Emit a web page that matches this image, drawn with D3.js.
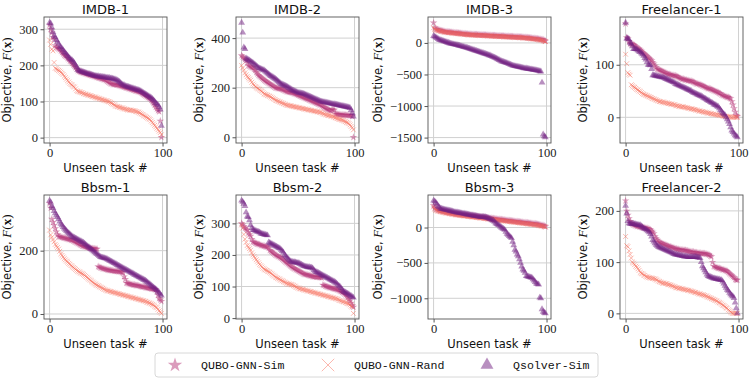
<!DOCTYPE html>
<html>
<head>
<meta charset="utf-8">
<script src="https://cdn.jsdelivr.net/npm/d3@7"></script>
<style>
  body { margin: 0; background: #fff; }
  svg { display: block; }
</style>
</head>
<body>
<div id="chart"></div>
<script>
// objective value per unseen task (sorted), one array per dataset / method
const imdb1Sim = [312,300,290,278,272,255,250,248,246,244, 240,236,232,228,226,224,220,216,212,210, 206,202,198,194,190,186,184,182,181,180, 179,178,177,176,175,174,173,172,171,170, 169,168,167,166,165,164,163,162,161,160, 158,156,154,152,150,149,148,147,147,146, 146,145,144,143,142,141,140,139,138,137, 136,135,134,133,132,131,130,129,128,127, 126,124,122,120,118,116,114,112,110,108, 104,100,95,90,85,80,75,72,46,1];
const imdb1Rand = [270,258,245,240,208,192,190,188,186,184, 181,178,175,170,166,162,158,154,150,147, 145,142,140,135,130,128,127,126,125,124, 122,121,120,119,118,117,116,115,114,113, 112,111,110,109,108,107,106,105,104,103, 102,101,100,99,97,95,93,91,89,87, 86,85,84,83,82,81,80,79,78,77, 77,76,76,75,75,74,73,72,71,70, 68,66,64,62,60,58,56,54,52,50, 46,42,38,34,30,26,22,18,14,8];
const imdb1Qs = [318,316,305,292,282,278,270,265,260,252, 250,246,242,237,234,230,226,222,219,216, 214,210,206,200,195,188,186,184,183,182, 181,180,179,178,177,176,175,174,173,172, 171,171,170,170,169,169,168,168,167,167, 166,166,165,165,164,164,163,162,161,160, 158,156,154,151,148,146,145,143,142,141, 140,139,138,137,136,135,134,133,132,131, 130,128,126,124,122,120,118,116,114,112, 110,107,104,100,96,93,90,85,78,33];

const imdb2Sim = [330,325,320,315,310,300,290,287,284,282, 280,275,270,262,256,250,246,242,238,234, 230,227,224,221,218,215,212,209,206,203, 200,199,198,197,196,195,193,191,189,187, 185,184,183,182,181,180,178,176,174,172, 170,168,166,164,162,160,158,156,154,152, 150,148,146,144,142,140,138,136,134,132, 130,127,124,121,118,115,113,111,109,107, 112,111,110,95,94,93,92,92,91,91, 90,90,90,89,89,89,88,88,85,0];
const imdb2Rand = [290,280,270,260,252,245,240,235,230,222, 215,210,205,202,198,195,192,188,185,180, 175,173,171,169,167,165,162,159,156,153, 150,148,146,144,142,140,138,136,134,132, 130,129,128,127,126,125,124,123,122,121, 120,119,118,117,116,115,114,113,112,111, 110,109,108,107,106,105,104,103,102,101, 100,98,96,94,92,90,89,88,87,86, 85,83,81,79,77,75,74,72,71,69, 68,65,63,60,58,55,50,44,38,30];
const imdb2Qs = [462,422,362,356,318,315,312,310,306,303, 300,296,292,288,284,280,278,276,274,272, 270,266,262,258,254,250,247,244,241,238, 235,231,227,223,219,215,213,211,209,207, 205,202,199,196,193,190,188,186,184,182, 180,179,178,177,176,175,173,171,169,167, 165,163,161,159,157,155,153,151,149,147, 145,144,143,142,141,140,139,138,137,136, 135,134,133,132,131,130,129,128,127,126, 125,124,123,122,121,120,118,110,98,84];

const imdb3Sim = [320,240,222,215,208,200,196,192,188,184, 180,178,176,174,172,170,168,166,164,162, 160,158,156,154,152,150,148,146,144,142, 140,139,138,137,136,135,134,133,132,131, 130,129,128,127,126,125,124,123,122,121, 120,119,118,117,116,115,114,113,112,111, 110,109,108,107,106,105,104,103,102,101, 100,99,98,97,96,95,94,93,92,91, 90,88,86,84,82,80,78,76,74,72, 70,68,66,63,60,57,54,50,40,30];
const imdb3Rand = [240,215,205,198,194,190,186,182,178,174, 170,168,166,164,162,160,158,156,154,152, 150,148,146,144,142,140,138,136,134,132, 130,129,128,127,126,125,124,123,122,121, 120,119,118,117,116,115,114,113,112,111, 110,109,108,107,106,105,104,103,102,101, 100,99,98,97,96,95,94,93,92,91, 90,89,88,87,86,85,84,83,82,81, 80,78,76,74,72,70,68,66,64,62, 60,57,54,51,48,45,40,35,28,20];
const imdb3Qs = [110,100,88,76,62,50,44,38,32,26, 20,14,8,2,-4,-10,-14,-18,-22,-26, -30,-35,-40,-45,-50,-55,-60,-65,-70,-75, -80,-86,-92,-98,-104,-110,-116,-122,-128,-134, -140,-146,-152,-158,-164,-170,-176,-182,-188,-194, -200,-208,-216,-224,-232,-240,-250,-260,-270,-280, -290,-296,-302,-308,-314,-320,-328,-336,-344,-352, -360,-364,-368,-372,-376,-380,-384,-388,-392,-396, -400,-403,-406,-409,-412,-415,-418,-421,-424,-427, -430,-434,-438,-442,-448,-452,-628,-1450,-1480,-1495];

const free1Sim = [178,152,150,145,140,140,139,138,137,135, 133,131,130,128,126,124,122,120,118,116, 114,112,110,108,105,102,98,95,92,91, 90,89,88,87,86,85,84,83,82,82, 81,80,80,79,79,78,77,76,75,74, 73,73,72,71,71,70,70,69,69,68, 67,66,65,64,64,63,62,61,60,59, 58,57,56,55,55,54,53,52,51,50, 49,48,47,46,45,43,42,41,40,39, 38,38,37,36,30,24,17,10,4,2];
const free1Rand = [120,102,85,82,80,62,60,58,57,55, 53,52,50,49,47,45,44,43,42,41, 40,39,38,37,36,35,34,33,32,31, 30,30,29,29,28,28,27,27,26,26, 25,25,24,24,23,22,22,21,21,20, 20,20,19,19,18,18,17,17,16,16, 15,15,14,14,13,12,12,11,11,10, 10,9,9,8,8,7,7,6,6,5, 5,5,4,4,4,3,3,2,2,2, 1,1,1,1,0,0,0,0,0,0];
const free1Qs = [180,150,150,148,142,140,135,130,130,130, 129,127,125,124,122,120,117,113,110,105, 100,100,99,92,80,80,79,79,78,78, 77,77,76,76,75,74,73,72,71,70, 69,68,67,66,64,63,62,61,60,59, 58,57,56,55,54,53,52,51,50,48, 47,46,45,44,43,42,41,40,39,37, 36,35,33,32,31,29,28,27,25,24, 23,21,20,17,14,11,8,6,4,0, -4,-8,-13,-19,-25,-28,-31,-34,-36,-38];

const bbsm1Sim = [350,335,300,290,280,270,260,250,245,244, 243,242,241,240,239,238,237,236,235,234, 233,231,229,227,225,223,221,219,217,215, 214,213,212,211,210,209,208,207,207,206, 206,205,205,150,148,146,145,144,143,142, 141,140,139,138,138,137,137,136,136,135, 135,134,134,133,132,130,118,110,98,97, 96,95,94,93,92,92,91,90,90,89, 88,87,86,86,85,84,83,82,82,81, 80,80,79,78,77,70,60,50,45,40];
const bbsm1Rand = [265,250,242,235,228,220,215,210,205,198, 190,185,180,175,171,167,164,160,157,153, 150,147,144,141,138,135,133,131,129,127, 125,122,119,116,113,110,107,104,101,98, 95,93,91,89,87,85,83,81,79,77, 75,74,73,72,71,70,69,68,67,66, 65,64,63,62,61,60,59,58,57,56, 55,54,53,52,51,50,49,48,47,46, 45,44,43,42,41,40,38,37,35,34, 32,30,28,25,22,20,15,10,6,2];
const bbsm1Qs = [358,352,340,335,325,318,312,306,300,292, 285,280,275,270,266,262,258,255,252,248, 245,243,241,239,237,235,233,231,229,227, 225,222,219,216,213,210,207,204,201,198, 195,192,189,186,183,180,179,178,177,176, 175,173,171,169,167,165,163,161,159,157, 155,153,151,149,147,145,143,141,139,137, 135,133,131,129,127,125,123,121,119,117, 115,113,111,109,107,105,102,99,96,93, 90,87,84,81,78,75,71,67,62,58];

const bbsm2Sim = [300,296,290,285,282,278,270,265,260,250, 242,240,238,236,235,234,233,231,230,229, 228,227,226,225,222,215,212,209,206,203, 200,198,196,194,192,190,187,184,181,178, 175,172,169,166,163,160,158,156,154,152, 150,148,146,144,142,140,139,138,137,136, 135,134,133,132,131,131,130,130,130,129, 129,128,105,104,102,100,99,98,97,96, 95,94,93,92,91,90,88,86,84,82, 80,77,74,70,65,60,55,48,40,35];
const bbsm2Rand = [295,285,265,250,240,230,225,220,215,207, 200,195,190,185,180,175,170,166,162,158, 155,153,151,149,147,145,142,139,136,133, 130,128,126,124,122,120,118,116,114,112, 110,109,108,107,106,105,103,101,99,97, 95,94,93,92,91,90,89,88,87,86, 85,84,83,82,81,80,79,78,77,76, 75,74,73,72,71,70,69,68,67,66, 65,64,63,62,61,60,58,56,55,53, 52,51,49,48,46,45,42,38,35,15];
const bbsm2Qs = [372,368,362,355,335,322,320,310,295,285, 280,279,277,275,274,273,271,268,267,266, 265,264,263,262,240,238,236,234,232,230, 228,226,224,222,220,216,212,208,200,196, 192,188,184,180,179,178,177,177,176,175, 175,173,171,169,167,165,164,163,162,161, 161,160,160,157,152,148,146,145,143,141, 139,137,135,133,131,129,127,125,123,121, 119,117,115,113,110,106,102,100,95,90, 85,83,81,79,77,75,72,70,67,65];

const bbsm3Sim = [310,280,262,255,248,242,238,234,230,226, 222,219,216,213,210,207,204,201,198,195, 192,190,188,186,184,182,180,178,176,174, 172,170,168,166,164,162,160,158,156,154, 152,150,148,146,144,142,140,138,136,134, 132,130,128,126,124,122,120,118,116,114, 112,110,108,106,104,102,100,98,96,94, 92,90,88,86,84,82,80,78,76,74, 72,70,68,66,64,62,60,58,56,54, 52,49,46,43,40,36,32,28,22,15];
const bbsm3Rand = [290,260,245,238,232,228,224,220,216,212, 208,205,202,199,196,193,190,187,184,181, 178,176,174,172,170,168,166,164,162,160, 158,156,154,152,150,148,146,144,142,140, 138,136,134,132,130,128,126,124,122,120, 118,116,114,112,110,108,106,104,102,100, 98,96,94,92,90,88,86,84,82,80, 78,76,74,72,70,68,66,64,62,60, 58,56,54,52,50,48,46,44,42,40, 38,35,32,29,26,23,20,16,12,8];
const bbsm3Qs = [380,370,350,330,300,285,270,265,260,257, 254,250,246,242,238,234,230,226,222,218, 215,212,210,207,204,200,197,194,191,188, 185,182,179,176,173,170,167,164,161,158, 155,152,150,150,150,148,145,140,135,128, 120,112,104,96,80,61,50,40,30,15, 0,-10,-20,-33,-60,-90,-103,-120,-135,-150, -200,-250,-313,-340,-380,-407,-450,-500,-550,-593, -610,-640,-687,-690,-695,-700,-705,-710,-730,-750, -770,-790,-800,-804,-990,-1000,-1154,-1190,-1205,-1213];

const free2Sim = [220,200,192,185,180,176,174,173,172,171, 170,170,169,169,168,168,167,167,166,166, 165,164,163,161,159,156,150,146,143,140, 139,138,137,136,135,134,133,132,131,130, 130,129,128,127,126,126,125,125,124,124, 124,123,123,123,122,122,121,121,120,120, 120,119,119,119,118,118,118,117,117,117, 117,116,116,115,114,112,111,100,92,91, 90,89,88,88,87,86,85,85,84,83, 82,80,78,76,74,72,70,66,65,65];
const free2Rand = [150,132,130,122,115,108,100,98,95,92, 90,87,84,80,78,77,75,74,72,71, 70,70,69,69,68,68,67,66,65,63, 62,61,60,59,59,58,58,57,56,56, 55,54,53,52,51,50,50,49,49,48, 48,47,47,46,46,45,45,44,43,43, 42,41,41,40,39,38,38,37,36,36, 35,34,33,32,31,30,29,28,27,26, 25,24,22,21,20,18,16,15,13,11, 10,7,5,3,1,0,0,0,0,0];
const free2Qs = [210,195,180,176,175,175,175,175,174,174, 173,173,172,172,170,168,166,165,164,162, 160,158,155,150,143,140,137,134,132,130, 129,128,127,126,125,124,123,122,121,120, 119,118,117,116,115,115,114,114,113,113, 112,112,111,111,111,110,110,110,110,110, 110,110,110,110,109,109,108,100,92,88, 84,80,76,73,72,71,70,69,68,68, 67,67,66,66,65,65,62,58,54,50, 46,44,40,37,35,33,30,21,10,0];

const panelTitles = ["IMDB-1", "IMDB-2", "IMDB-3", "Freelancer-1", "Bbsm-1", "Bbsm-2", "Bbsm-3", "Freelancer-2"];
const panelSim = [imdb1Sim, imdb2Sim, imdb3Sim, free1Sim, bbsm1Sim, bbsm2Sim, bbsm3Sim, free2Sim];
const panelRand = [imdb1Rand, imdb2Rand, imdb3Rand, free1Rand, bbsm1Rand, bbsm2Rand, bbsm3Rand, free2Rand];
const panelQs = [imdb1Qs, imdb2Qs, imdb3Qs, free1Qs, bbsm1Qs, bbsm2Qs, bbsm3Qs, free2Qs];
const yTickValues = [[0, 100, 200, 300], [0, 200, 400], [-1500, -1000, -500, 0], [0, 100],
    [0, 200], [0, 100, 200, 300], [-1000, -500, 0], [0, 100, 200]];
const xTickValues = [0, 100];
const seriesNames = ["QUBO-GNN-Sim", "QUBO-GNN-Rand", "Qsolver-Sim"];

const width = 753, height = 382;
const colLeft = [44, 236, 428, 620], plotW = 123;
const rowTop = [17, 195], rowH = [126, 124];

const color = d3.scaleOrdinal()
    .domain(seriesNames)
    .range(["#b73779", "#f76f5c", "#721f81"]);

const tickFont = "'Liberation Serif', 'DejaVu Serif', serif",
    sansFont = "'DejaVu Sans', sans-serif",
    monoFont = "'Liberation Mono', 'DejaVu Sans Mono', monospace";

const svg = d3.select("#chart")
    .append("svg")
    .attr("width", width)
    .attr("height", height)
    .style("background", "#fff");

// marker drawing, s = scale factor
function drawMarker(sel, name, s) {
    if (name === "QUBO-GNN-Sim") {
        sel.append("path")
            .attr("d", d3.symbol(d3.symbolStar).size(18 * s * s))
            .attr("fill", color(name))
            .attr("fill-opacity", 0.5);
    } else if (name === "QUBO-GNN-Rand") {
        const r = 2.4 * s;
        sel.append("path")
            .attr("d", `M${-r},${-r}L${r},${r}M${-r},${r}L${r},${-r}`)
            .attr("fill", "none")
            .attr("stroke", color(name))
            .attr("stroke-opacity", 0.55)
            .attr("stroke-width", 0.9);
    } else {
        sel.append("path")
            .attr("d", d3.symbol(d3.symbolTriangle).size(20 * s * s))
            .attr("fill", color(name))
            .attr("fill-opacity", 0.5);
    }
}

function showPanel(i) {
    const left = colLeft[i % 4], top = rowTop[Math.floor(i / 4)], h = rowH[Math.floor(i / 4)];
    const series = [panelSim[i], panelRand[i], panelQs[i]];
    const idx = d3.range(series[0].length);

    const xPad = (idx.length - 1) * 0.05;
    const x = d3.scaleLinear()
        .domain([-xPad, idx.length - 1 + xPad])
        .range([0, plotW]);

    const [lo, hi] = d3.extent(series.flat());
    const yPad = (hi - lo) * 0.05;
    const y = d3.scaleLinear()
        .domain([lo - yPad, hi + yPad])
        .range([h, 0]);

    const g = svg.append("g")
        .attr("transform", "translate(" + left + "," + top + ")");

    // grid
    g.append("g").selectAll("line.hg")
        .data(yTickValues[i])
        .enter().append("line")
        .attr("x1", 0).attr("x2", plotW)
        .attr("y1", d => y(d)).attr("y2", d => y(d))
        .attr("stroke", "#d0d0d0").attr("stroke-width", 1);
    g.append("g").selectAll("line.vg")
        .data(xTickValues)
        .enter().append("line")
        .attr("y1", 0).attr("y2", h)
        .attr("x1", d => x(d)).attr("x2", d => x(d))
        .attr("stroke", "#d0d0d0").attr("stroke-width", 1);

    // points
    series.forEach((vals, k) => {
        const name = seriesNames[k];
        g.append("g").selectAll("g")
            .data(vals)
            .enter().append("g")
            .attr("transform", (d, j) => "translate(" + x(j) + "," + y(d) + ")")
            .each(function () {
                drawMarker(d3.select(this), name, 1);
            });
    });

    g.append("rect")
        .attr("width", plotW).attr("height", h)
        .attr("fill", "none")
        .attr("stroke", "#555").attr("stroke-width", 0.9);

    const yAxis = d3.axisLeft(y)
        .tickValues(yTickValues[i])
        .tickFormat(d3.format("d"))
        .tickSize(3.5)
        .tickPadding(2.5)
        .tickSizeOuter(0);
    const xAxis = d3.axisBottom(x)
        .tickValues(xTickValues)
        .tickFormat(d3.format("d"))
        .tickSize(3.5)
        .tickPadding(2)
        .tickSizeOuter(0);

    const ya = g.append("g").call(yAxis);
    const xa = g.append("g").attr("transform", "translate(0," + h + ")").call(xAxis);
    [ya, xa].forEach(a => {
        a.select(".domain").remove();
        a.selectAll("line").attr("stroke", "#555");
        a.selectAll("text")
            .attr("fill", "#222")
            .style("font-family", tickFont)
            .style("font-size", "12.5px");
    });

    const yaw = ya.node().getBBox().width;

    // title
    g.append("text")
        .attr("x", plotW / 2).attr("y", -3)
        .attr("text-anchor", "middle")
        .style("font-family", sansFont)
        .style("font-size", "13px")
        .attr("fill", "#111")
        .text(panelTitles[i]);

    // x label
    g.append("text")
        .attr("x", plotW / 2).attr("y", h + 29)
        .attr("text-anchor", "middle")
        .style("font-family", sansFont)
        .style("font-size", "11.5px")
        .attr("fill", "#111")
        .text("Unseen task #");

    // y label
    const yl = g.append("text")
        .attr("transform", "translate(" + (-yaw - 8) + "," + (h / 2) + ") rotate(-90)")
        .attr("text-anchor", "middle")
        .style("font-family", sansFont)
        .style("font-size", "11.5px")
        .attr("fill", "#111");
    yl.append("tspan").text("Objective, ");
    yl.append("tspan").style("font-family", tickFont).style("font-style", "italic").style("font-size", "13px").text("F");
    yl.append("tspan").style("font-family", tickFont).style("font-size", "13px").text("(");
    yl.append("tspan").style("font-family", tickFont).style("font-weight", "bold").style("font-size", "13px").text("x");
    yl.append("tspan").style("font-family", tickFont).style("font-size", "13px").text(")");
}

d3.range(8).forEach(showPanel);

// legend
const legendX = [175, 328, 487], legendTextX = [201, 354, 513];
const legend = svg.append("g");
legend.append("rect")
    .attr("x", 155).attr("y", 353)
    .attr("width", 443).attr("height", 24)
    .attr("rx", 3)
    .attr("fill", "#fff")
    .attr("stroke", "#d8d8d8");
seriesNames.forEach((name, k) => {
    const m = legend.append("g")
        .attr("transform", "translate(" + legendX[k] + ",365)");
    drawMarker(m, name, k === 1 ? 2.6 : 1.9);
    legend.append("text")
        .attr("x", legendTextX[k]).attr("y", 369)
        .style("font-family", monoFont)
        .style("font-size", "11.6px")
        .attr("fill", "#111")
        .text(name);
});
</script>
</body>
</html>
